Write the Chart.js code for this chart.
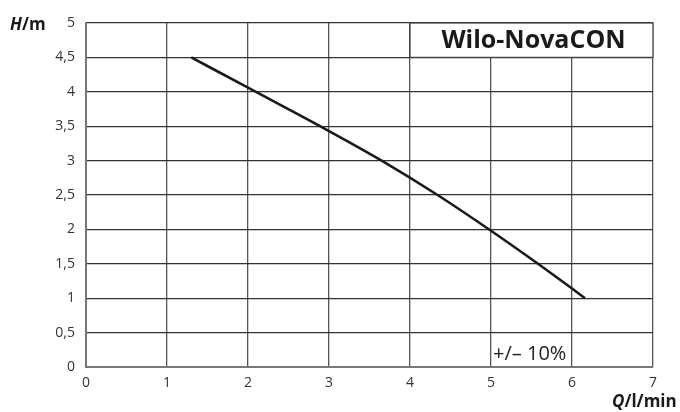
<!DOCTYPE html>
<html>
<head>
<meta charset="utf-8">
<script src="https://cdn.jsdelivr.net/npm/chart.js@4"></script>
<style>
  html, body { margin: 0; padding: 0; background: #fff; }
  #wrap { width: 680px; height: 412px; }
</style>
</head>
<body>
<div id="wrap"><canvas id="pumpChart"></canvas></div>
<script>
// pump curve, Q in l/min, H in m
const flowQ = [1.3, 2.0, 3.0, 3.65, 4.34, 5.0, 5.58, 6.0, 6.16];
const headH = [4.5, 4.06, 3.43, 3.0, 2.5, 1.98, 1.5, 1.14, 1.0];
const xTicks = [0, 1, 2, 3, 4, 5, 6, 7];
const yTicks = [0, 0.5, 1, 1.5, 2, 2.5, 3, 3.5, 4, 4.5, 5];
const titleText = 'Wilo-NovaCON';
const toleranceText = '+/\u2013 10%';

const FONT = '"Open Sans", "Noto Sans", sans-serif';

// boxes, labels and axis names drawn on top of the grid
const overlay = {
    id: 'overlay',
    beforeDatasetsDraw(chart) {
        const { ctx, scales: { x, y } } = chart;
        // title box over the top right cells
        const left = x.getPixelForValue(4), right = x.getPixelForValue(7);
        const top = y.getPixelForValue(5), bottom = y.getPixelForValue(4.5);
        ctx.save();
        ctx.fillStyle = '#fff';
        ctx.fillRect(left, top, right - left, bottom - top);
        ctx.strokeStyle = '#444';
        ctx.lineWidth = 1.3;
        ctx.strokeRect(left, top, right - left, bottom - top);
        ctx.fillStyle = '#1a1a1a';
        ctx.font = 'bold 25px ' + FONT;
        ctx.textAlign = 'center';
        ctx.textBaseline = 'middle';
        ctx.fillText(titleText, (left + right) / 2 + 2, (top + bottom) / 2 + 1);

        // tolerance note
        ctx.font = '20px ' + FONT;
        ctx.fillStyle = '#222';
        ctx.textAlign = 'left';
        ctx.textBaseline = 'alphabetic';
        ctx.fillText(toleranceText, x.getPixelForValue(5) + 2, y.getPixelForValue(0) - 7);
        ctx.restore();
    },
    afterDraw(chart) {
        const { ctx, scales: { x, y } } = chart;
        ctx.save();
        ctx.fillStyle = '#1a1a1a';
        ctx.textBaseline = 'alphabetic';
        // H/m
        ctx.textAlign = 'left';
        let px = 10, py = y.getPixelForValue(5) + 7;
        ctx.font = 'italic bold 17px ' + FONT;
        ctx.fillText('H', px, py);
        px += ctx.measureText('H').width;
        ctx.font = 'bold 17px ' + FONT;
        ctx.fillText('/m', px, py);
        // Q/l/min
        px = 612; py = 407;
        ctx.font = 'italic bold 17px ' + FONT;
        ctx.fillText('Q', px, py);
        px += ctx.measureText('Q').width;
        ctx.font = 'bold 17px ' + FONT;
        ctx.fillText('/l/min', px, py);
        ctx.restore();
    }
};

new Chart(document.getElementById('pumpChart'), {
    type: 'scatter',
    data: {
        datasets: [{
            data: flowQ.map((q, i) => ({ x: q, y: headH[i] })),
            showLine: true,
            borderColor: '#1a1a1a',
            borderWidth: 2.6,
            pointRadius: 0,
            cubicInterpolationMode: 'monotone',
            fill: false
        }]
    },
    options: {
        responsive: true,
        maintainAspectRatio: false,
        animation: false,
        layout: { padding: { top: 23, right: 27, left: 0, bottom: 0 } },
        plugins: { legend: { display: false }, tooltip: { enabled: false } },
        scales: {
            x: {
                type: 'linear',
                min: 0, max: 7,
                afterBuildTicks: (s) => { s.ticks = xTicks.map(v => ({ value: v })); },
                afterFit: (s) => { s.height = 45; },
                grid: { color: '#555', lineWidth: 1.3, drawTicks: false },
                border: { color: '#777', width: 2 },
                ticks: {
                    color: '#333',
                    padding: 8,
                    font: { family: FONT, size: 14 },
                    callback: (v) => String(v)
                }
            },
            y: {
                type: 'linear',
                min: 0, max: 5,
                afterBuildTicks: (s) => { s.ticks = yTicks.map(v => ({ value: v })); },
                afterFit: (s) => { s.width = 86; },
                grid: { color: '#333', lineWidth: 1.3, drawTicks: false },
                border: { color: '#777', width: 2 },
                ticks: {
                    color: '#333',
                    padding: 11,
                    font: { family: FONT, size: 14 },
                    callback: (v) => String(v).replace('.', ',')
                }
            }
        }
    },
    plugins: [overlay]
});
</script>
</body>
</html>
